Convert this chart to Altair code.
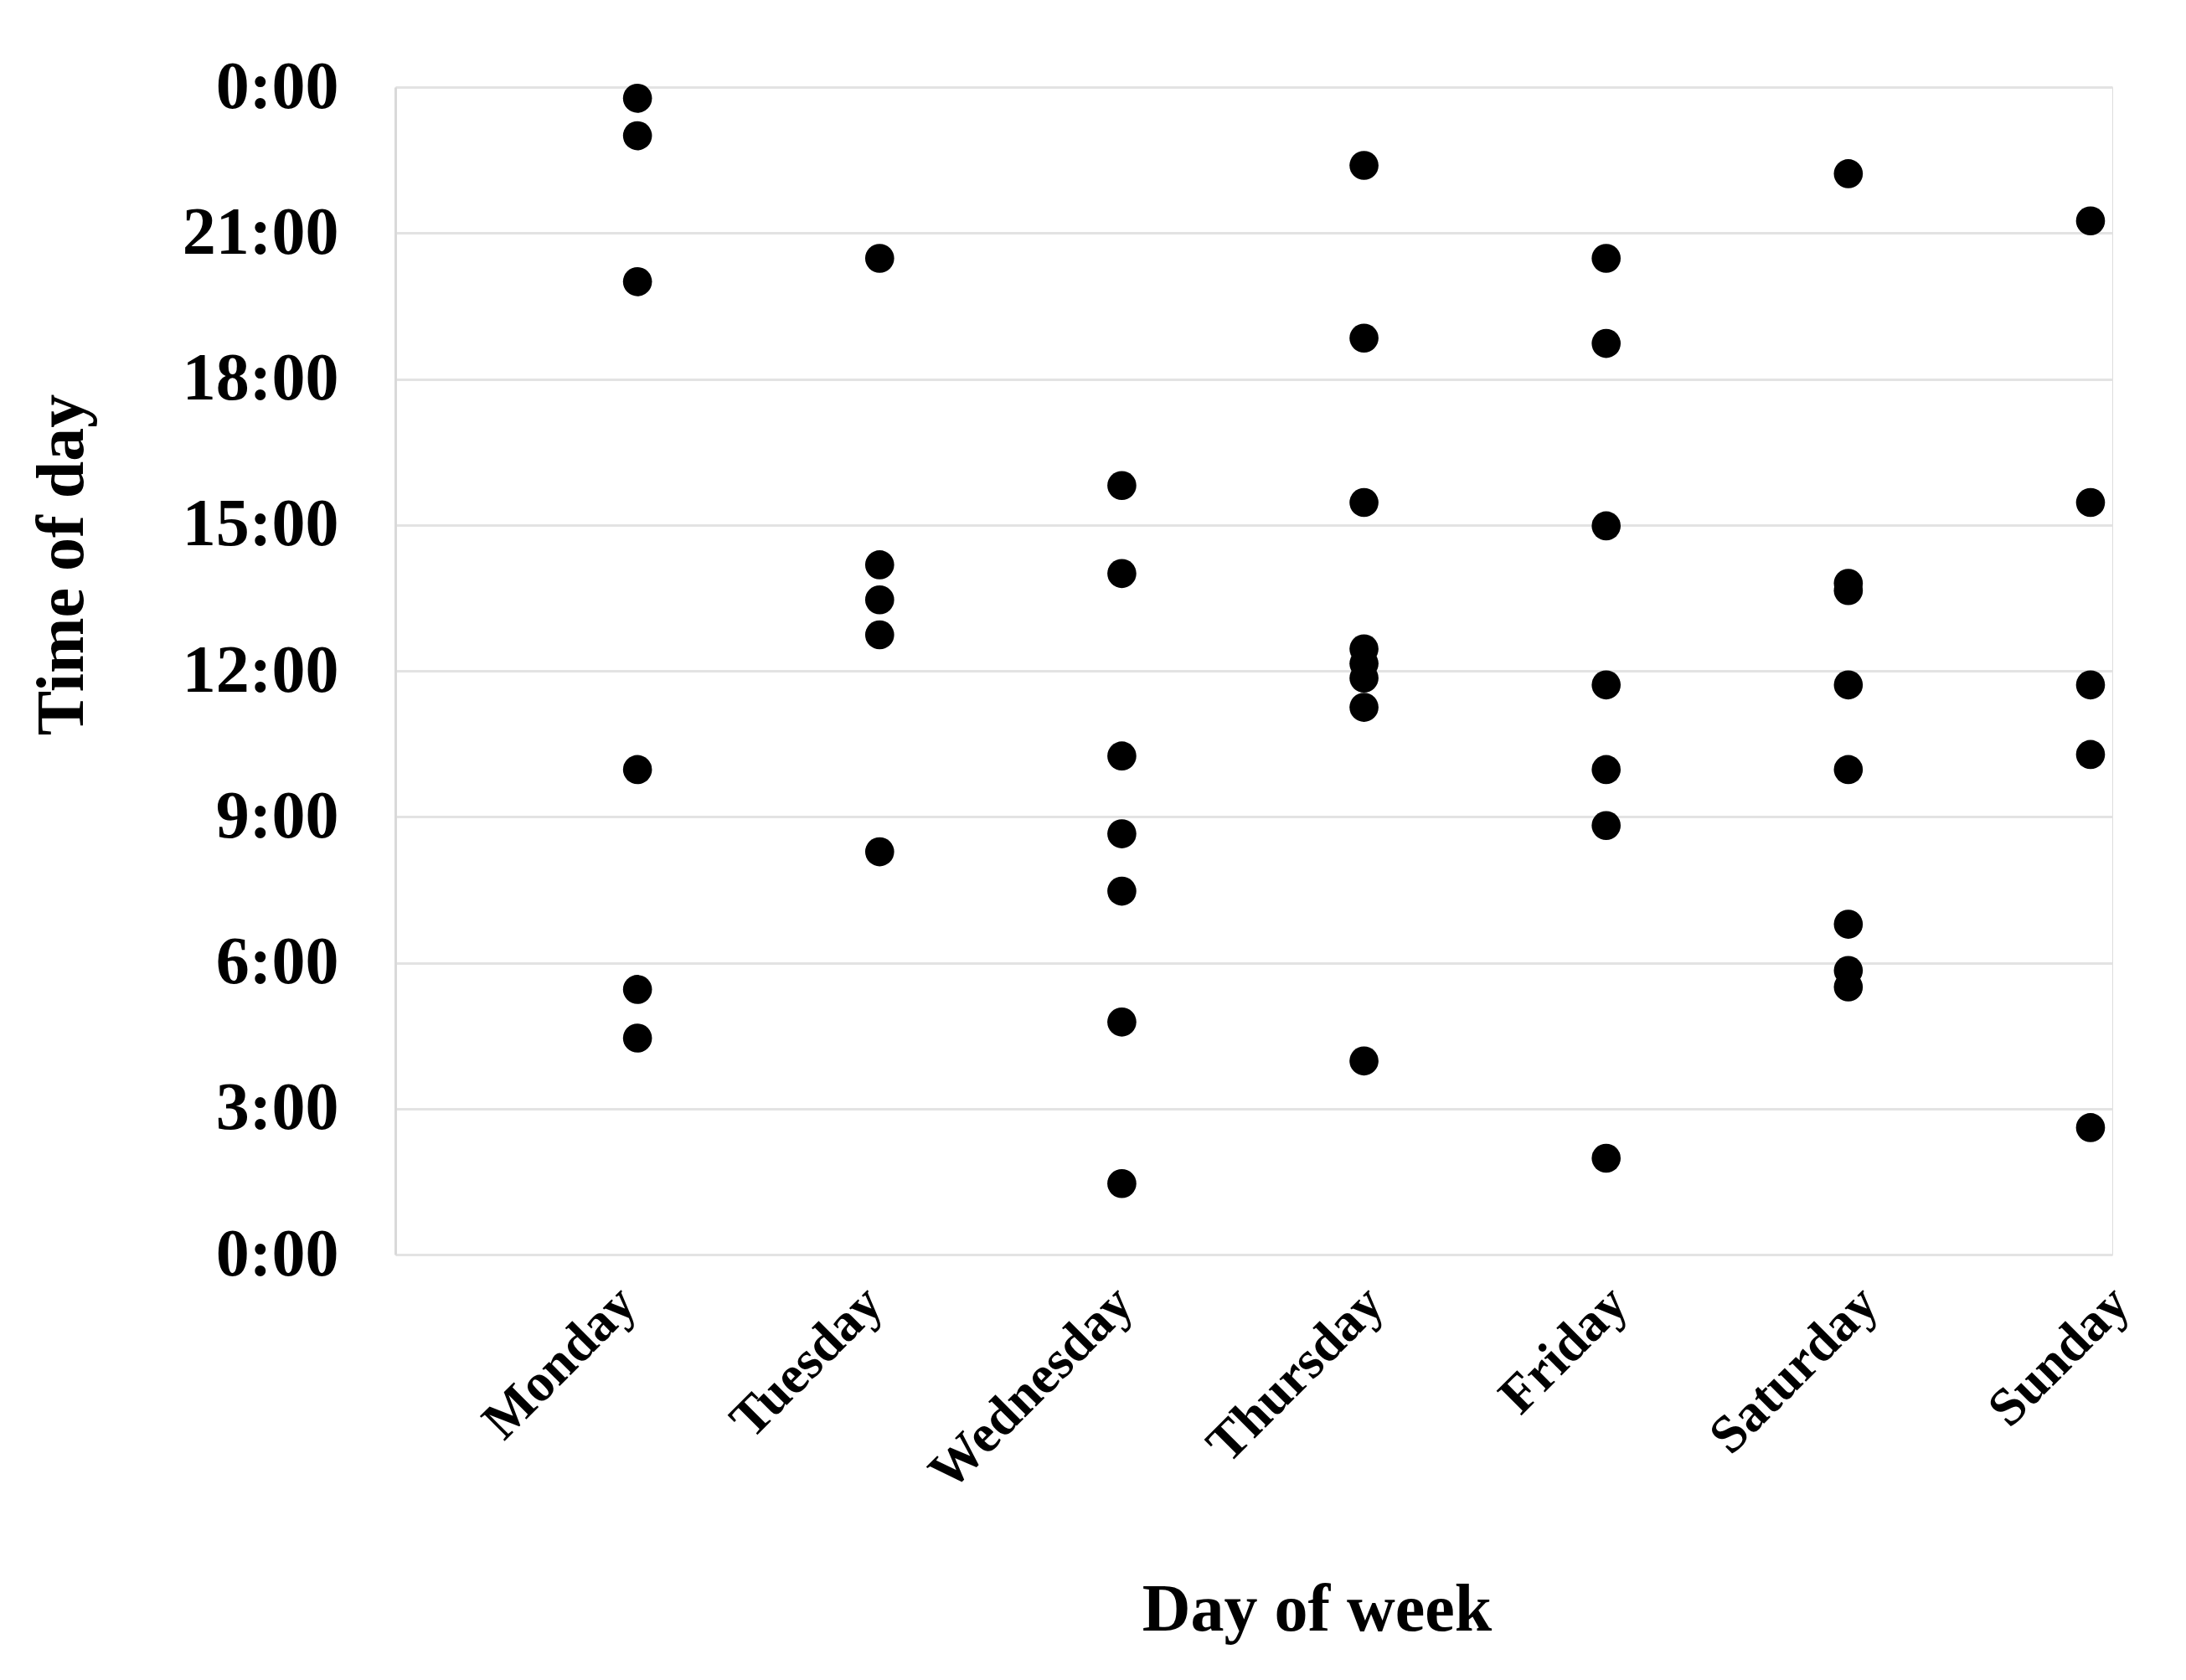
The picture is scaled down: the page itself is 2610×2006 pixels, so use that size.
import altair as alt
import pandas as pd

days = ["Monday", "Tuesday", "Wednesday", "Thursday", "Friday", "Saturday", "Sunday"]

# hours of day (decimal), one list per day
monday = [23.77, 23.0, 20.0, 9.97, 5.45, 4.45]
tuesday = [20.48, 14.18, 13.46, 12.74, 8.28]
wednesday = [15.81, 14.0, 10.25, 8.65, 7.47, 4.78, 1.46]
thursday = [22.39, 18.84, 15.46, 12.45, 12.15, 11.85, 11.25, 3.98]
friday = [20.48, 18.73, 14.98, 11.71, 9.97, 8.82, 1.98]
saturday = [22.22, 13.8, 13.65, 11.71, 9.97, 6.79, 5.84, 5.5]
sunday = [21.25, 15.46, 11.71, 10.28, 2.61]

y_ticks = [0, 3, 6, 9, 12, 15, 18, 21, 24]

series = [monday, tuesday, wednesday, thursday, friday, saturday, sunday]
rows = []
for i, vals in enumerate(series):
    for v in vals:
        rows.append({"day": i + 1, "hour": v})
df = pd.DataFrame(rows)

day_expr = "[" + ",".join("'" + d + "'" for d in days) + "][datum.value - 1]"
hour_expr = "datum.value == 24 ? '0:00' : datum.value + ':00'"

FONT = "Liberation Serif"

label_offset = {
    "condition": [
        {"test": "datum.value == 1", "value": -35},
        {"test": "datum.value == 2", "value": -30},
        {"test": "datum.value == 3", "value": -20},
        {"test": "datum.value == 4", "value": -10},
        {"test": "datum.value == 5", "value": -8},
        {"test": "datum.value == 6", "value": 2},
    ],
    "value": 13,
}

chart = alt.Chart(df).mark_circle(size=1200, color="black", opacity=1).encode(
    x=alt.X(
        "day:Q",
        scale=alt.Scale(domain=[0, 7.09], nice=False, zero=False),
        axis=alt.Axis(
            values=list(range(1, 8)),
            labelExpr=day_expr,
            labelAngle=-45,
            labelFont=FONT,
            labelFontWeight="bold",
            labelFontSize=64,
            labelColor="black",
            labelPadding=26,
            labelOffset=label_offset,
            labelOverlap=False,
            labelLimit=0,
            ticks=False,
            domain=False,
            grid=False,
            title="Day of week",
            titleFont=FONT,
            titleFontWeight="bold",
            titleFontSize=80,
            titleColor="black",
            titleX=1100,
            titleY=424,
            titleAlign="center",
            titleBaseline="middle",
        ),
    ),
    y=alt.Y(
        "hour:Q",
        scale=alt.Scale(domain=[0, 24], nice=False),
        axis=alt.Axis(
            values=y_ticks,
            labelExpr=hour_expr,
            labelFont=FONT,
            labelFontWeight="bold",
            labelFontSize=80,
            labelColor="black",
            labelPadding=68,
            labelOverlap=False,
            labelLimit=0,
            ticks=False,
            domain=True,
            domainColor="#d9d9d9",
            domainWidth=3,
            grid=True,
            gridColor="#e3e3e3",
            gridWidth=3,
            title="Time of day",
            titleFont=FONT,
            titleFontWeight="bold",
            titleFontSize=80,
            titleColor="black",
            titleAngle=270,
            titleX=-398,
            titleY=570,
            titleAlign="center",
            titleBaseline="middle",
        ),
    ),
).properties(
    width=2050,
    height=1394,
    padding={"left": 464, "top": 96, "right": 75, "bottom": 470},
    autosize=alt.AutoSizeParams(type="none"),
).configure_view(stroke="transparent", strokeWidth=0, strokeOpacity=0).configure(background="white")

chart.save("out.html", embed_options={"renderer": "svg", "actions": False})
